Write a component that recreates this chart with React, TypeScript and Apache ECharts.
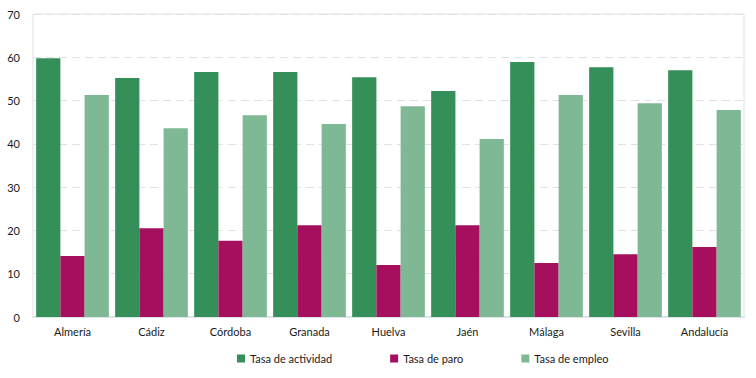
import React, { useEffect, useRef } from "react";
import * as echarts from "echarts";

const categories = ["Almería", "Cádiz", "Córdoba", "Granada", "Huelva", "Jaén", "Málaga", "Sevilla", "Andalucía"];
const tasaActividad = [59.8, 55.2, 56.6, 56.6, 55.4, 52.2, 58.9, 57.7, 57.0];
const tasaParo = [14.1, 20.5, 17.6, 21.2, 12.0, 21.2, 12.5, 14.5, 16.2];
const tasaEmpleo = [51.3, 43.6, 46.6, 44.6, 48.7, 41.1, 51.3, 49.4, 47.8];
const seriesNames = ["Tasa de actividad", "Tasa de paro", "Tasa de empleo"];
const colors = ["#348f59", "#a50f5e", "#7fb894"];

export default function App() {
  const ref = useRef<HTMLDivElement>(null);
  useEffect(() => {
    if (!ref.current) return;
    const chart = echarts.init(ref.current, undefined, { renderer: "svg" });
    const font = "Lato, 'Open Sans', sans-serif";
    const values = [tasaActividad, tasaParo, tasaEmpleo];
    chart.setOption({
      animation: false,
      textStyle: { fontFamily: font },
      grid: { left: 33, right: 12, top: 14, bottom: 61, show: true, borderColor: "#dde3e6", borderWidth: 1 },
      legend: {
        bottom: 9,
        left: 232,
        itemWidth: 8,
        itemHeight: 8,
        itemGap: 58,
        icon: "rect",
        textStyle: { fontFamily: font, fontSize: 11, color: "#1a1a1a" },
        data: seriesNames,
      },
      xAxis: {
        type: "category",
        data: categories,
        axisLine: { lineStyle: { color: "#dde3e6", width: 2 } },
        axisTick: { show: false },
        axisLabel: { color: "#1a1a1a", fontSize: 11, fontFamily: font, margin: 9 },
      },
      yAxis: {
        type: "value",
        min: 0,
        max: 70,
        interval: 10,
        axisLine: { show: false },
        axisTick: { show: false },
        axisLabel: { color: "#1a1a1a", fontSize: 11, fontFamily: font, margin: 13 },
        splitLine: { lineStyle: { color: "#dde3e6", type: [8, 5], width: 1 } },
      },
      series: seriesNames.map((name, i) => ({
        name,
        type: "bar",
        data: values[i],
        barGap: "0%",
        barCategoryGap: "8%",
        itemStyle: { color: colors[i] },
      })),
    });
    return () => chart.dispose();
  }, []);
  return <div ref={ref} style={{ width: 756, height: 378, position: "absolute", left: 0, top: 0 }} />;
}
